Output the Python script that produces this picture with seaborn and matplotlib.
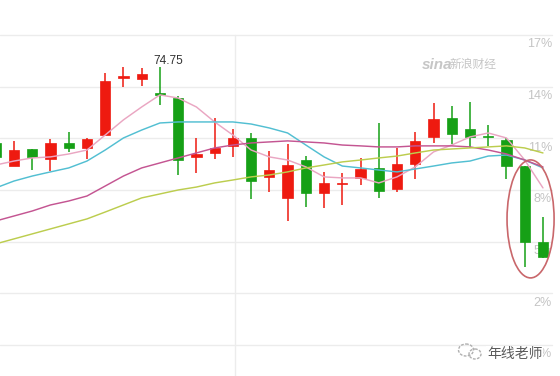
import numpy as np
import pandas as pd
import seaborn as sns
import matplotlib.pyplot as plt
from matplotlib.patches import Ellipse
from matplotlib.transforms import blended_transform_factory

# daily candles, in % change (the right-hand scale)
days = list(range(31))
opens = [10.73, 9.39, 10.38, 9.80, 10.73, 10.44, 11.19, 14.53, 14.45, 13.63, 13.34,
         9.92, 10.15, 10.56, 11.02, 8.76, 7.54, 9.74, 7.83, 8.35, 8.70,
         9.28, 8.06, 9.51, 11.08, 12.18, 11.54, 11.14, 10.90, 9.39, 4.98]
highs = [10.85, 10.85, 10.38, 10.96, 11.37, 11.02, 14.79, 15.14, 15.08, 15.14, 13.46,
         11.02, 12.18, 11.54, 11.31, 10.27, 10.67, 9.97, 9.05, 8.99, 9.86,
         11.89, 10.44, 11.37, 13.05, 12.88, 13.11, 11.77, 11.02, 9.39, 6.43]
lows = [9.80, 9.39, 9.16, 9.10, 10.21, 9.80, 11.19, 13.98, 14.04, 12.94, 8.87,
        8.99, 9.80, 9.92, 7.48, 7.88, 6.20, 7.01, 6.96, 7.13, 8.29,
        7.54, 7.88, 8.64, 10.73, 10.67, 10.44, 10.56, 8.64, 3.53, 4.05]
closes = [9.92, 10.32, 9.92, 10.73, 10.44, 10.96, 14.33, 14.59, 14.74, 13.52, 9.74,
          10.09, 10.44, 11.02, 8.52, 9.16, 9.45, 7.83, 8.41, 8.41, 9.22,
          7.94, 9.51, 10.85, 12.12, 11.25, 11.08, 11.08, 9.39, 4.98, 4.11]

# moving average lines
ma5 = [9.45, 9.68, 9.86, 9.92, 10.09, 10.32, 11.19, 12.07, 12.82, 13.52, 13.34,
       12.82, 11.95, 11.19, 10.32, 9.92, 9.74, 9.34, 8.76, 8.70, 8.70,
       8.41, 8.76, 9.34, 10.21, 10.61, 11.08, 11.31, 11.02, 9.74, 8.12]
ma10 = [8.12, 8.52, 8.81, 9.05, 9.28, 9.68, 10.32, 11.02, 11.48, 11.89, 11.95,
        11.95, 11.95, 11.95, 11.83, 11.60, 11.31, 10.61, 9.92, 9.39, 9.28,
        9.16, 9.05, 9.22, 9.39, 9.57, 9.68, 9.97, 10.03, 9.74, 9.28]
ma20 = [6.20, 6.49, 6.78, 7.13, 7.36, 7.65, 8.23, 8.81, 9.28, 9.57, 9.86,
        10.15, 10.44, 10.61, 10.73, 10.79, 10.85, 10.79, 10.73, 10.61, 10.56,
        10.50, 10.50, 10.56, 10.56, 10.56, 10.50, 10.32, 10.09, 9.74, 9.34]
ma30 = [4.87, 5.16, 5.45, 5.74, 6.03, 6.32, 6.72, 7.13, 7.54, 7.77, 8.00,
        8.17, 8.41, 8.58, 8.76, 8.87, 9.05, 9.28, 9.45, 9.63, 9.74,
        9.86, 9.97, 10.15, 10.32, 10.38, 10.44, 10.50, 10.56, 10.44, 10.15]

pct_ticks = [17, 14, 11, 8, 5, 2, -1]
pct_labels = ['17%', '14%', '11%', '8%', '5%', '2%', '-1%']
peak_day = 9
peak_label = '74.75'

RED = '#ee1a10'
GREEN = '#16a016'
ma_colors = ['#eaa6c2', '#52bfd2', '#c45592', '#bccd4e']

sns.set_theme(style='white')
plt.rcParams['font.family'] = ['Liberation Sans', 'Noto Sans CJK SC', 'DejaVu Sans']

fig = plt.figure(figsize=[5.6, 3.76], dpi=100)
ax = fig.add_axes([0, 0, 1, 1])
ax.set_xlim(0.2325, 30.934)
ax.set_ylim(-2.80, 19.03)
for s in ax.spines.values():
    s.set_visible(False)
ax.set_xticks([])
ax.set_yticks([])

# grid
for t in pct_ticks:
    ax.axhline(t, xmin=0, xmax=552 / 560, color='#ececec', lw=1, zorder=0)
ax.plot([13.12, 13.12], [ax.get_ylim()[0], pct_ticks[0]], color='#ececec', lw=1, zorder=0)

# right-side labels
tr = blended_transform_factory(ax.transAxes, ax.transData)
for t, lab in zip(pct_ticks, pct_labels):
    ax.annotate(lab, xy=(552 / 560, t), xycoords=tr, xytext=(0, -2.5),
                textcoords='offset points', ha='right', va='top',
                fontsize=9, color='#c4c4c4', zorder=1)

# candles
df = pd.DataFrame({'day': days, 'open': opens, 'high': highs,
                   'low': lows, 'close': closes})
df['color'] = np.where(df['close'] >= df['open'], RED, GREEN)
body_lo = df[['open', 'close']].min(axis=1)
body_h = (df['close'] - df['open']).abs().clip(lower=0.07)
ax.vlines(df['day'], df['low'], df['high'], colors=df['color'], lw=1.1, zorder=2)
ax.bar(df['day'], body_h, bottom=body_lo, width=0.56, color=df['color'],
       edgecolor=df['color'], lw=0.5, zorder=3)

# moving averages
ma = pd.DataFrame({'day': days, 'MA5': ma5, 'MA10': ma10, 'MA20': ma20, 'MA30': ma30})
ma_long = ma.melt(id_vars='day', var_name='line', value_name='value')
sns.lineplot(data=ma_long, x='day', y='value', hue='line', palette=ma_colors,
             legend=False, lw=1.05, ax=ax, zorder=4)
ax.set_xlabel('')
ax.set_ylabel('')

ax.annotate(peak_label, xy=(peak_day, highs[peak_day]), xytext=(6, 2),
            textcoords='offset points', ha='center', va='baseline',
            fontsize=8.6, color='#333333', zorder=5)

# red ring around the last two candles
ax.add_patch(Ellipse((29.32, 6.32), 2.58, 6.85, fill=False,
                     edgecolor='#c9676b', lw=1.2, zorder=5))

# watermarks in pixel coordinates
deco = fig.add_axes([0, 0, 1, 1], facecolor='none')
deco.set_xlim(0, 560)
deco.set_ylim(376, 0)
deco.axis('off')
deco.text(422, 69, 'sina', fontsize=11, fontstyle='italic', fontweight='bold',
          color='#c6c6c6', va='baseline')
deco.text(450, 68, '新浪财经', fontsize=8.5, fontstyle='italic', color='#c6c6c6',
          va='baseline', family=['Noto Sans CJK SC', 'DejaVu Sans'])
deco.text(487, 358, '年线老师', fontsize=10, color='#5a5a5a', va='baseline',
          family=['Noto Sans CJK SC', 'DejaVu Sans'],
          bbox=dict(facecolor='white', edgecolor='none', pad=0.5))
deco.add_patch(Ellipse((466, 350), 15, 12, fill=False, edgecolor='#b0b0b0',
                       lw=1, linestyle=(0, (2, 1))))
deco.add_patch(Ellipse((475, 354), 12, 10, fill=False, edgecolor='#b0b0b0',
                       lw=1, linestyle=(0, (2, 1))))

plt.savefig('out.png', dpi=100)
